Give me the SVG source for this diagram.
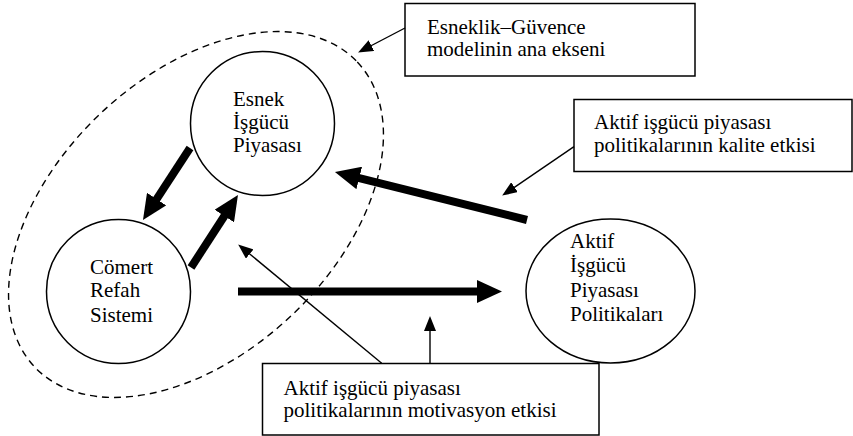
<svg xmlns="http://www.w3.org/2000/svg" width="853" height="436" viewBox="0 0 853 436">
<style>
text{font-family:"Liberation Serif","Times New Roman",serif;font-size:21px;fill:#000}
.node{fill:#fff;stroke:#000;stroke-width:1.5}
.box{fill:#fff;stroke:#000;stroke-width:1.5}
.thick{stroke:#000;stroke-width:8;fill:none}
.thin{stroke:#000;stroke-width:1.4;fill:none}
.dash{fill:none;stroke:#000;stroke-width:1.4;stroke-dasharray:7 5}
</style>
<defs>
<marker id="bigHead" markerUnits="userSpaceOnUse" markerWidth="25" markerHeight="23" refX="3" refY="11.5" orient="auto">
<path d="M0,0 L25,11.5 L0,23 z" fill="#000"/>
</marker>
<marker id="smallHead" markerUnits="userSpaceOnUse" markerWidth="15" markerHeight="12" refX="2" refY="6" orient="auto">
<path d="M0,0 L15,6 L0,12 z" fill="#000"/>
</marker>
</defs>
<rect width="853" height="436" fill="#fff"/>
<g id="axis">
<ellipse class="dash" cx="196" cy="214.5" rx="222" ry="139" transform="rotate(-43.4 196 214.5)"/>
</g>
<g id="esnek">
<circle class="node" cx="262.5" cy="123.5" r="72"/>
<text x="233" y="106">Esnek</text>
<text x="233" y="129">İşgücü</text>
<text x="233" y="152">Piyasası</text>
</g>
<g id="comert">
<circle class="node" cx="118.5" cy="291.5" r="72"/>
<text x="90" y="273.5">Cömert</text>
<text x="90" y="297">Refah</text>
<text x="90" y="321.5">Sistemi</text>
</g>
<g id="aktif">
<ellipse class="node" cx="610.5" cy="291" rx="84.5" ry="72"/>
<text x="570" y="248">Aktif</text>
<text x="570" y="272">İşgücü</text>
<text x="570" y="296.5">Piyasası</text>
<text x="570" y="321">Politikaları</text>
</g>
<g id="box-axis">
<rect class="box" x="405" y="3.5" width="290" height="72.5"/>
<text x="427" y="34">Esneklik–Güvence</text>
<text x="427" y="56">modelinin ana ekseni</text>
</g>
<g id="box-quality">
<rect class="box" x="574" y="99.5" width="278" height="72"/>
<text x="594" y="128.5">Aktif işgücü piyasası</text>
<text x="594" y="151.5">politikalarının kalite etkisi</text>
</g>
<g id="connectors">
<line class="thick" x1="190" y1="148" x2="155" y2="201.6" marker-end="url(#bigHead)"/>
<line class="thick" x1="191" y1="267.5" x2="226" y2="213.5" marker-end="url(#bigHead)"/>
<line class="thick" x1="527" y1="220" x2="356.3" y2="177.3" marker-end="url(#bigHead)"/>
<line class="thick" x1="238" y1="291.5" x2="480" y2="291.5" marker-end="url(#bigHead)"/>
<line class="thin" x1="405" y1="28" x2="369.6" y2="46.5" marker-end="url(#smallHead)"/>
<line class="thin" x1="574" y1="146.7" x2="512.9" y2="188.3" marker-end="url(#smallHead)"/>
<line class="thin" x1="381.7" y1="363.3" x2="248.2" y2="252.7" marker-end="url(#smallHead)"/>
<line class="thin" x1="430" y1="363.3" x2="430" y2="329" marker-end="url(#smallHead)"/>
</g>
<g id="box-motivation">
<rect class="box" x="262.5" y="363.5" width="336.5" height="71.5"/>
<text x="283.5" y="395">Aktif işgücü piyasası</text>
<text x="283.5" y="417">politikalarının motivasyon etkisi</text>
</g>
</svg>
